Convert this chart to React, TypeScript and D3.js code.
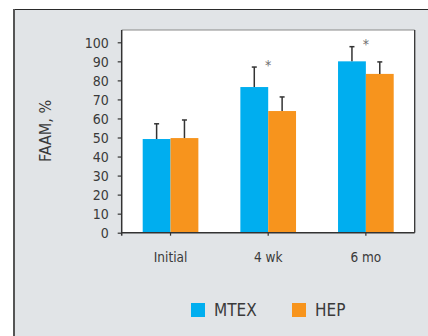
import { useEffect, useRef } from 'react'
import * as d3 from 'd3'

const categories = ['Initial', '4 wk', '6 mo']
const seriesNames = ['MTEX', 'HEP']
const mtexValues = [49.2, 76.5, 90.0]
const mtexErrors = [8.0, 10.5, 7.7]
const hepValues = [49.7, 63.9, 83.4]
const hepErrors = [9.5, 7.4, 6.3]
const significant = [false, true, true]
const yTicks = [0, 10, 20, 30, 40, 50, 60, 70, 80, 90, 100]

const colors = ['#00aeef', '#f7941d']
const FONT = "'Liberation Sans Narrow', 'DejaVu Sans Condensed', 'Roboto', sans-serif"

const App = () => {
  const ref = useRef<SVGSVGElement | null>(null)

  useEffect(() => {
    const svg = d3.select(ref.current)
    svg.selectAll('*').remove()

    // background panel
    svg.append('rect').attr('width', 428).attr('height', 336).attr('fill', '#fff')
    svg.append('rect').attr('x', 14).attr('y', 9.5).attr('width', 420).attr('height', 330).attr('fill', '#e1e4e7')
    svg.append('line').attr('x1', 13).attr('x2', 428).attr('y1', 9.5).attr('y2', 9.5).attr('stroke', '#2a2a2a').attr('stroke-width', 1.2)
    svg.append('line').attr('x1', 14).attr('x2', 14).attr('y1', 9).attr('y2', 336).attr('stroke', '#555').attr('stroke-width', 2)

    const plot = { left: 121.7, right: 414.7, top: 30, bottom: 232.7 }
    const x = d3.scaleBand<string>().domain(categories).range([plot.left, plot.right]).paddingInner(0.43).paddingOuter(0.215)
    const xs = d3.scaleBand<string>().domain(seriesNames).range([0, x.bandwidth()])
    const y = d3.scaleLinear().domain([0, 100]).range([plot.bottom, 42.3])

    // plot area
    svg.append('rect').attr('x', plot.left).attr('y', plot.top).attr('width', plot.right - plot.left).attr('height', plot.bottom - plot.top).attr('fill', '#fff')
    svg.append('line').attr('x1', plot.left).attr('x2', plot.right).attr('y1', plot.top).attr('y2', plot.top).attr('stroke', '#8a8a8a').attr('stroke-width', 1.2)
    svg.append('line').attr('x1', plot.right).attr('x2', plot.right).attr('y1', plot.top).attr('y2', plot.bottom).attr('stroke', '#333').attr('stroke-width', 1.3)

    const series = [
      { values: mtexValues, errors: mtexErrors },
      { values: hepValues, errors: hepErrors },
    ]

    series.forEach((s, si) => {
      const g = svg.append('g')
      categories.forEach((c, i) => {
        const bx = (x(c) ?? 0) + (xs(seriesNames[si]) ?? 0)
        const bw = xs.bandwidth()
        g.append('rect').attr('x', bx).attr('y', y(s.values[i])).attr('width', bw).attr('height', y(0) - y(s.values[i])).attr('fill', colors[si])
        const cx = bx + bw / 2
        const top = y(s.values[i] + s.errors[i])
        g.append('line').attr('x1', cx).attr('x2', cx).attr('y1', y(s.values[i])).attr('y2', top).attr('stroke', '#333').attr('stroke-width', 1.5)
        g.append('line').attr('x1', cx - 2.5).attr('x2', cx + 2.5).attr('y1', top).attr('y2', top).attr('stroke', '#333').attr('stroke-width', 1.5)
      })
    })

    // significance asterisks
    categories.forEach((c, i) => {
      if (!significant[i]) return
      const cx = (x(c) ?? 0) + x.bandwidth() / 2
      const top = y(mtexValues[i] + mtexErrors[i])
      svg.append('text').attr('x', cx).attr('y', top + 2.5).attr('text-anchor', 'middle').attr('font-family', FONT).attr('font-size', 14).attr('fill', '#6e6e6e').text('*')
    })

    // y axis
    const yAxis = svg.append('g').attr('transform', `translate(${plot.left},0)`)
      .call(d3.axisLeft(y).tickValues(yTicks).tickSize(4).tickPadding(9))
    yAxis.select('.domain').attr('stroke', '#333').attr('stroke-width', 1.5).attr('d', `M0,${plot.top}V${plot.bottom + 3}`)
    yAxis.selectAll('.tick line').attr('stroke', '#333').attr('stroke-width', 1.2)
    yAxis.selectAll('.tick text').attr('font-family', FONT).attr('font-size', 14).attr('fill', '#3a3a3a').attr('dy', '0.36em')

    // x axis
    const xAxis = svg.append('g').attr('transform', `translate(0,${plot.bottom})`)
      .call(d3.axisBottom(x).tickSize(3).tickPadding(17))
    xAxis.select('.domain').attr('stroke', '#333').attr('stroke-width', 1.5).attr('d', `M${plot.left},0H${plot.right}`)
    xAxis.selectAll('.tick line').attr('stroke', '#333').attr('stroke-width', 1.2)
    xAxis.selectAll('.tick text').attr('font-family', FONT).attr('font-size', 13.5).attr('fill', '#3a3a3a')

    // y label
    svg.append('text').attr('transform', 'translate(51,131) rotate(-90)').attr('text-anchor', 'middle')
      .attr('font-family', FONT).attr('font-size', 16).attr('fill', '#3a3a3a').text('FAAM, %')

    // legend
    const legendX = [191, 292]
    seriesNames.forEach((name, i) => {
      svg.append('rect').attr('x', legendX[i]).attr('y', 303).attr('width', 14).attr('height', 14).attr('fill', colors[i])
      svg.append('text').attr('x', legendX[i] + 23).attr('y', 316).attr('font-family', FONT).attr('font-size', 17).attr('fill', '#3a3a3a').text(name)
    })
  }, [])

  return <svg ref={ref} width={428} height={336} style={{ position: 'absolute', left: 0, top: 0 }} />
}

export default App
